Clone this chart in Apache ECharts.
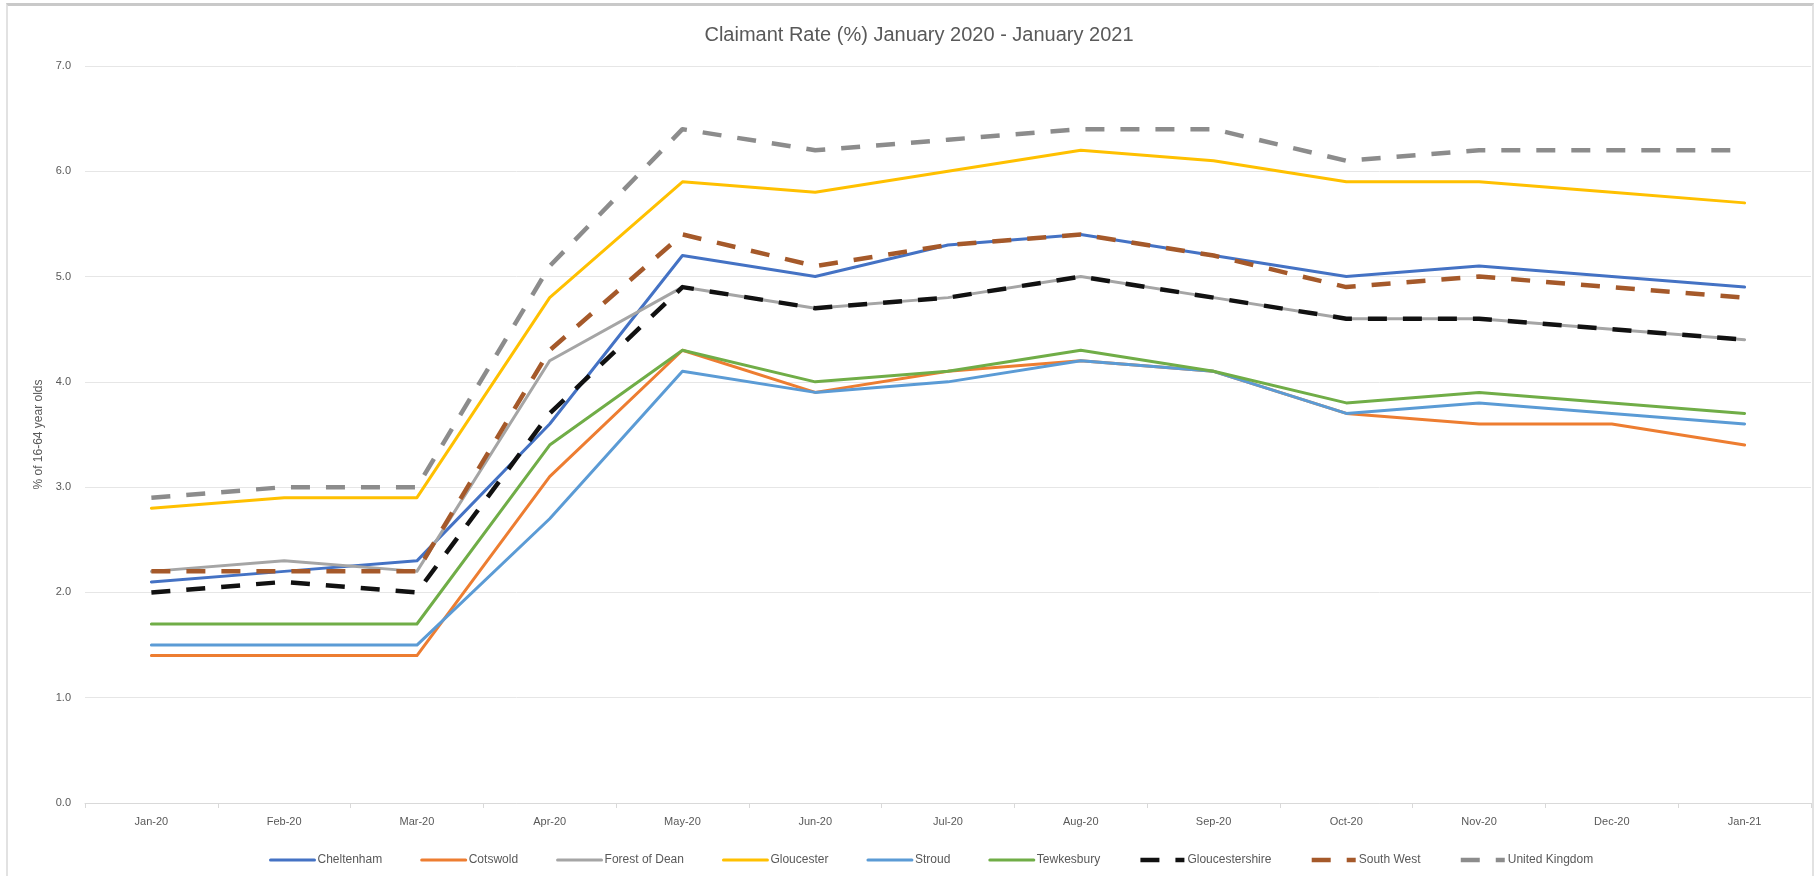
<!DOCTYPE html>
<html>
<head>
<meta charset="utf-8">
<script src="https://cdn.jsdelivr.net/npm/echarts@6/dist/echarts.min.js"></script>
<style>
  html, body { margin: 0; padding: 0; background: #ffffff; }
  #chart { position: absolute; left: 0; top: 0; width: 1816px; height: 876px; }
  #frame { position: absolute; left: 6px; top: 3px; width: 1804px; height: 900px;
           border-top: 3px solid #c9c9c9; border-left: 2px solid #e2e2e2; border-right: 2px solid #e2e2e2;
           pointer-events: none; }
</style>
</head>
<body>
<div id="chart"></div>
<div id="frame"></div>
<script>
const categories = ['Jan-20','Feb-20','Mar-20','Apr-20','May-20','Jun-20','Jul-20','Aug-20','Sep-20','Oct-20','Nov-20','Dec-20','Jan-21'];

const cheltenham      = [2.1, 2.2, 2.3, 3.6, 5.2, 5.0, 5.3, 5.4, 5.2, 5.0, 5.1, 5.0, 4.9];
const cotswold        = [1.4, 1.4, 1.4, 3.1, 4.3, 3.9, 4.1, 4.2, 4.1, 3.7, 3.6, 3.6, 3.4];
const forestOfDean    = [2.2, 2.3, 2.2, 4.2, 4.9, 4.7, 4.8, 5.0, 4.8, 4.6, 4.6, 4.5, 4.4];
const gloucester      = [2.8, 2.9, 2.9, 4.8, 5.9, 5.8, 6.0, 6.2, 6.1, 5.9, 5.9, 5.8, 5.7];
const stroud          = [1.5, 1.5, 1.5, 2.7, 4.1, 3.9, 4.0, 4.2, 4.1, 3.7, 3.8, 3.7, 3.6];
const tewkesbury      = [1.7, 1.7, 1.7, 3.4, 4.3, 4.0, 4.1, 4.3, 4.1, 3.8, 3.9, 3.8, 3.7];
const gloucestershire = [2.0, 2.1, 2.0, 3.7, 4.9, 4.7, 4.8, 5.0, 4.8, 4.6, 4.6, 4.5, 4.4];
const southWest       = [2.2, 2.2, 2.2, 4.3, 5.4, 5.1, 5.3, 5.4, 5.2, 4.9, 5.0, 4.9, 4.8];
const unitedKingdom   = [2.9, 3.0, 3.0, 5.1, 6.4, 6.2, 6.3, 6.4, 6.4, 6.1, 6.2, 6.2, 6.2];

const seriesNames = ['Cheltenham','Cotswold','Forest of Dean','Gloucester','Stroud','Tewkesbury','Gloucestershire','South West','United Kingdom'];
const seriesData = [cheltenham, cotswold, forestOfDean, gloucester, stroud, tewkesbury, gloucestershire, southWest, unitedKingdom];
const seriesColors = ['#4472C4','#ED7D31','#A5A5A5','#FFC000','#5B9BD5','#70AD47','#111111','#A5592A','#8C8C8C'];
const seriesDashed = [false,false,false,false,false,false,true,true,true];

const yTicks = [0,1,2,3,4,5,6,7];

const FONT = '"Liberation Sans", Arial, sans-serif';

const series = seriesNames.map((name, i) => ({
  name: name,
  type: 'line',
  data: seriesData[i],
  symbol: 'none',
  showSymbol: false,
  smooth: false,
  color: seriesColors[i],
  itemStyle: { color: seriesColors[i] },
  lineStyle: seriesDashed[i]
    ? { color: seriesColors[i], width: 4.5, type: [19, 16], cap: 'butt', join: 'round' }
    : { color: seriesColors[i], width: 3, type: 'solid', cap: 'round', join: 'round' },
  emphasis: { disabled: true },
  animation: false
}));

const chart = echarts.init(document.getElementById('chart'), null, { renderer: 'canvas' });
chart.setOption({
  backgroundColor: '#ffffff',
  animation: false,
  title: {
    text: 'Claimant Rate (%) January 2020 - January 2021',
    left: 914, top: 20, textAlign: 'center',
    textStyle: { fontFamily: FONT, fontSize: 20, fontWeight: 'normal', color: '#595959' }
  },
  legend: {
    data: seriesNames,
    left: 264,
    top: 849,
    itemWidth: 44,
    itemHeight: 12,
    itemGap: 38,
    itemStyle: { opacity: 0 },
    lineStyle: { width: 'inherit' },
    textStyle: { fontFamily: FONT, fontSize: 12, color: '#595959', padding: [0,0,0,-2] }
  },
  grid: { left: 85, right: 5, top: 66, bottom: 73, containLabel: false },
  xAxis: {
    type: 'category',
    data: categories,
    boundaryGap: true,
    axisLine: { show: true, lineStyle: { color: '#d9d9d9', width: 1 } },
    axisTick: { show: true, alignWithLabel: false, length: 5, lineStyle: { color: '#d9d9d9' } },
    axisLabel: { fontFamily: FONT, fontSize: 11, color: '#595959', margin: 13 },
    splitLine: { show: false }
  },
  yAxis: {
    type: 'value',
    min: 0, max: 7, interval: 1,
    name: '% of 16-64 year olds',
    nameLocation: 'middle',
    nameRotate: 90,
    nameGap: 40,
    nameTextStyle: { fontFamily: FONT, fontSize: 12, color: '#595959' },
    axisLine: { show: false },
    axisTick: { show: false },
    axisLabel: { fontFamily: FONT, fontSize: 11, color: '#595959', margin: 14,
                 formatter: v => (yTicks.includes(v) ? v.toFixed(1) : '') },
    splitLine: { show: true, lineStyle: { color: '#e6e6e6', width: 1 } }
  },
  series: series
});
</script>
</body>
</html>
